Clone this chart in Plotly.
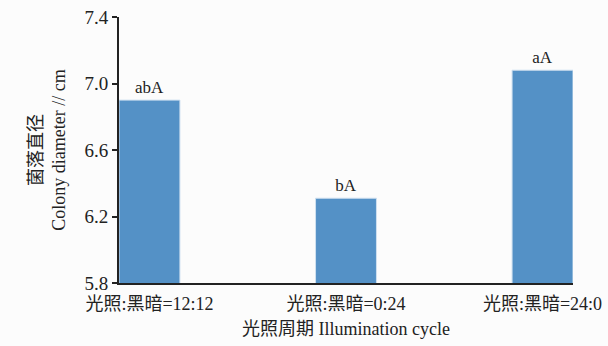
import plotly.graph_objects as go

# Colony diameter under three illumination cycles
categories = ["光照:黑暗=12:12", "光照:黑暗=0:24", "光照:黑暗=24:0"]
diameters = [6.90, 6.31, 7.08]
letters = ["abA", "bA", "aA"]
y_ticks = [5.8, 6.2, 6.6, 7.0, 7.4]

FONT = "Liberation Serif, Noto Sans CJK SC, serif"

fig = go.Figure(
    go.Bar(
        x=[0, 1, 2],
        y=diameters,
        width=0.31,
        marker=dict(color="#5491c6", line=dict(color="#cfe0f0", width=1)),
        text=letters,
        textposition="outside",
        textfont=dict(family=FONT, size=17, color="#222"),
        cliponaxis=False,
    )
)

fig.update_layout(
    width=608,
    height=346,
    margin=dict(l=119, r=35, t=17, b=63),
    paper_bgcolor="#fcfcfc",
    plot_bgcolor="#fcfcfc",
    showlegend=False,
    font=dict(family=FONT, size=18, color="#222"),
    xaxis=dict(
        range=[-0.155, 2.155],
        automargin=False,
        tickmode="array",
        tickvals=[0, 1, 2],
        ticktext=categories,
        showline=True,
        linecolor="#222",
        linewidth=2,
        ticks="",
        ticklabelstandoff=3,
        showgrid=False,
        zeroline=False,
        tickfont=dict(family=FONT, size=18),
        title=dict(text="光照周期 Illumination cycle", font=dict(family=FONT, size=18), standoff=10),
    ),
    yaxis=dict(
        range=[5.8, 7.4],
        automargin=False,
        tickmode="array",
        tickvals=y_ticks,
        ticktext=[f"{v:.1f}" for v in y_ticks],
        showline=True,
        linecolor="#222",
        linewidth=2,
        ticks="outside",
        ticklen=5,
        tickwidth=2,
        tickcolor="#222",
        showgrid=False,
        zeroline=False,
        tickfont=dict(family=FONT, size=19),
        title=dict(text="菌落直径<br>Colony diameter // cm", font=dict(family=FONT, size=18), standoff=14),
    ),
)

fig.write_html("out.html")
